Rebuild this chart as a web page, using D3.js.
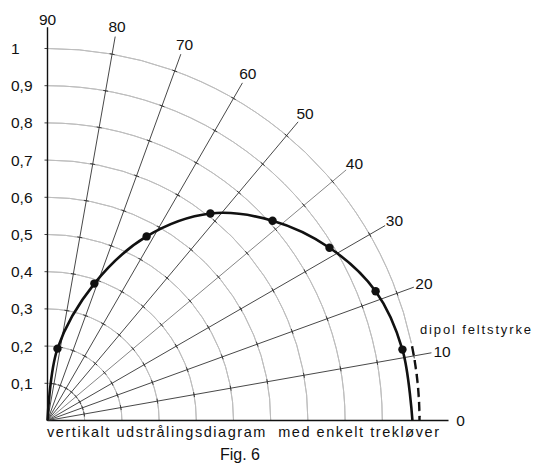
<!DOCTYPE html>
<html lang="da">
<head>
    <meta charset="UTF-8">
    <script src="https://d3js.org/d3.v7.min.js"></script>
    <title>Fig. 6</title>
    <style>
        body { margin: 0; background: #fff; }
        svg text { font-family: "Liberation Sans", Arial, sans-serif; fill: #111; }
    </style>
</head>
<body>
    <div id="container"></div>
</body>
<script>
    // data
    var rayAngles = [0, 10, 20, 30, 40, 50, 60, 70, 80, 90];
    var rayLabels = ["0", "10", "20", "30", "40", "50", "60", "70", "80", "90"];
    var gridRadii = [0.1, 0.2, 0.3, 0.4, 0.5, 0.6, 0.7, 0.8, 0.9, 1];
    var radiusLabels = ["0,1", "0,2", "0,3", "0,4", "0,5", "0,6", "0,7", "0,8", "0,9", "1"];
    // measured points (angle in degrees, relative field strength)
    var pointAngles = [82.1, 71.1, 61.7, 51.8, 41.6, 31.5, 21.5, 11.3];
    var pointValues = [0.195, 0.389, 0.562, 0.708, 0.809, 0.889, 0.948, 0.973];
    // curve ends at origin (90 deg) and on the horizontal axis
    var curveAngles = [90].concat(pointAngles, [0]);
    var curveValues = [0].concat(pointValues, [0.981]);
    var dipolAngles = [0, 11.5];
    var dipolValue = 1;
    var bottomText = "vertikalt udstrålingsdiagram  med enkelt trekløver";

    var width = 534, height = 466;
    var ox = 47.5, oy = 420.5;

    var r = d3.scaleLinear().domain([0, 1]).range([0, 372]);
    // degrees above horizontal -> d3 radial angle (clockwise from top)
    var a = d3.scaleLinear().domain([0, 90]).range([Math.PI / 2, 0]);

    var pol = (deg, v) => [r(v) * Math.sin(a(deg)), -r(v) * Math.cos(a(deg))];

    var svg = d3.select("#container").append("svg")
        .attr("width", width).attr("height", height);

    var g = svg.append("g").attr("transform", `translate(${ox},${oy})`);

    // grid arcs
    var arc = d3.arc();
    g.append("g")
        .attr("fill", "none").attr("stroke", "#bdbdbd").attr("stroke-width", 1)
        .selectAll("path")
        .data(gridRadii)
        .join("path")
        .attr("d", d => arc({
            innerRadius: r(d), outerRadius: r(d),
            startAngle: 0, endAngle: d === 1 ? a(12) : Math.PI / 2
        }));

    // small ticks left of the vertical axis
    g.append("g").attr("stroke", "#444").attr("stroke-width", 1)
        .selectAll("line").data(gridRadii).join("line")
        .attr("x1", -3).attr("x2", 0)
        .attr("y1", d => -r(d)).attr("y2", d => -r(d));

    // rays
    var rays = rayAngles.map((d, i) => ({ deg: d, label: rayLabels[i] }));
    var rayEnd = deg => deg === 0 ? 1.078 : deg === 90 ? 1.057 : 1.048;
    g.append("g")
        .selectAll("line").data(rays).join("line")
        .attr("x1", 0).attr("y1", 0)
        .attr("x2", d => pol(d.deg, rayEnd(d.deg))[0])
        .attr("y2", d => pol(d.deg, rayEnd(d.deg))[1])
        .attr("stroke", d => (d.deg === 0 || d.deg === 90) ? "#111" : d.deg === 40 ? "#777" : "#333")
        .attr("stroke-width", d => (d.deg === 0 || d.deg === 90) ? 1.4 : 0.9);

    // tick crosses on rays
    var tickData = [];
    rayAngles.filter(d => d > 0 && d < 90).forEach(deg => {
        gridRadii.forEach(v => tickData.push({ deg: deg, v: v }));
    });
    g.append("g").attr("stroke", "#333").attr("stroke-width", 0.9)
        .selectAll("line").data(tickData).join("line")
        .attr("transform", d => `translate(${pol(d.deg, d.v)}) rotate(${-d.deg})`)
        .attr("x1", 0).attr("x2", 0).attr("y1", -2.5).attr("y2", 2.5);

    // ray labels
    g.append("g").attr("font-size", 15.5).attr("text-anchor", "middle")
        .selectAll("text").data(rays).join("text")
        .attr("x", d => d.deg === 0 ? 413 : pol(d.deg, 1.077)[0])
        .attr("y", d => d.deg === 0 ? 0 : pol(d.deg, 1.077)[1])
        .attr("dy", "0.36em")
        .text(d => d.label);

    // radius labels
    svg.append("g").attr("font-size", 15.5)
        .selectAll("text").data(gridRadii).join("text")
        .attr("x", 11)
        .attr("y", d => oy - r(d))
        .attr("dy", "0.36em")
        .text((d, i) => radiusLabels[i]);

    // dipol reference (dashed)
    g.append("path")
        .attr("d", arc({
            innerRadius: r(dipolValue), outerRadius: r(dipolValue),
            startAngle: a(dipolAngles[1]), endAngle: a(dipolAngles[0])
        }))
        .attr("fill", "none").attr("stroke", "#111")
        .attr("stroke-width", 2.4).attr("stroke-dasharray", "9,5");

    // pattern curve
    var line = d3.lineRadial()
        .angle(d => a(d[0]))
        .radius(d => r(d[1]))
        .curve(d3.curveCatmullRom.alpha(0.5));
    g.append("path")
        .attr("d", line(curveAngles.map((d, i) => [d, curveValues[i]])))
        .attr("fill", "none").attr("stroke", "#111").attr("stroke-width", 2.6);

    g.append("g").selectAll("circle")
        .data(pointAngles.map((d, i) => [d, pointValues[i]]))
        .join("circle")
        .attr("cx", d => pol(d[0], d[1])[0])
        .attr("cy", d => pol(d[0], d[1])[1])
        .attr("r", 4.2).attr("fill", "#111");

    // texts
    svg.append("text")
        .attr("x", 420).attr("y", 334)
        .attr("font-size", 13)
        .attr("textLength", 111).attr("lengthAdjust", "spacing")
        .text("dipol feltstyrke");

    svg.append("text")
        .attr("x", 47).attr("y", 437)
        .attr("font-size", 14.5)
        .attr("xml:space", "preserve").style("white-space", "pre")
        .attr("textLength", 392).attr("lengthAdjust", "spacing")
        .text(bottomText);

    svg.append("text")
        .attr("x", 240).attr("y", 460)
        .attr("font-size", 16).attr("text-anchor", "middle")
        .text("Fig. 6");
</script>
</html>
